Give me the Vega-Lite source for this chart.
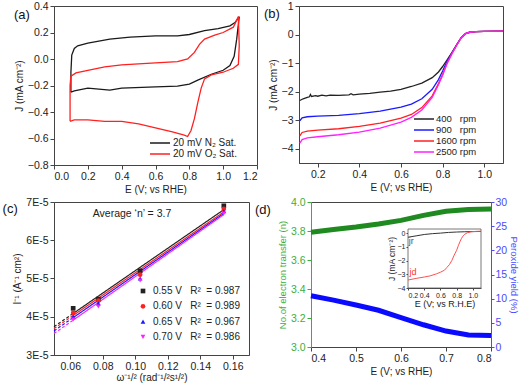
{
"$schema": "https://vega.github.io/schema/vega-lite/v6.json",
"padding": {"left": 2, "top": 0, "right": 0, "bottom": 0},
"spacing": 1,
"resolve": {"scale": {"color": "independent", "shape": "independent", "strokeDash": "independent", "stroke": "independent"}, "legend": {"color": "independent", "shape": "independent"}},
"config": {
 "font": "Liberation Sans",
 "view": {"stroke": "#444", "strokeWidth": 1},
 "axis": {"grid": false, "labelOverlap": false, "tickCount": 20, "domainColor": "#444", "tickColor": "#444", "labelColor": "#222", "titleColor": "#222", "labelFontSize": 10.5, "titleFontSize": 10, "titleFontWeight": "normal", "tickSize": 4, "labelPadding": 2, "titlePadding": 3},
 "legend": {"labelFontSize": 10, "padding": 0, "rowPadding": 0, "symbolStrokeWidth": 1.5, "labelLimit": 300, "labelColor": "#222"}
},
"datasets": {
 "cv": [
  {"gas":"20 mV N₂ Sat.","i":1,"E":0.1,"J":-0.25},{"gas":"20 mV N₂ Sat.","i":2,"E":0.1,"J":-0.1},{"gas":"20 mV N₂ Sat.","i":3,"E":0.105,"J":0.03},{"gas":"20 mV N₂ Sat.","i":4,"E":0.12,"J":0.08},{"gas":"20 mV N₂ Sat.","i":5,"E":0.14,"J":0.1},{"gas":"20 mV N₂ Sat.","i":6,"E":0.2,"J":0.12},{"gas":"20 mV N₂ Sat.","i":7,"E":0.33,"J":0.15},{"gas":"20 mV N₂ Sat.","i":8,"E":0.45,"J":0.165},{"gas":"20 mV N₂ Sat.","i":9,"E":0.6,"J":0.175},{"gas":"20 mV N₂ Sat.","i":10,"E":0.73,"J":0.175},{"gas":"20 mV N₂ Sat.","i":11,"E":0.8,"J":0.185},{"gas":"20 mV N₂ Sat.","i":12,"E":0.89,"J":0.215},{"gas":"20 mV N₂ Sat.","i":13,"E":0.97,"J":0.23},{"gas":"20 mV N₂ Sat.","i":14,"E":1.04,"J":0.25},{"gas":"20 mV N₂ Sat.","i":15,"E":1.07,"J":0.275},{"gas":"20 mV N₂ Sat.","i":16,"E":1.095,"J":0.32},{"gas":"20 mV N₂ Sat.","i":17,"E":1.08,"J":0.15},{"gas":"20 mV N₂ Sat.","i":18,"E":1.065,"J":0.02},{"gas":"20 mV N₂ Sat.","i":19,"E":1.04,"J":-0.05},{"gas":"20 mV N₂ Sat.","i":20,"E":1.0,"J":-0.085},{"gas":"20 mV N₂ Sat.","i":21,"E":0.93,"J":-0.115},{"gas":"20 mV N₂ Sat.","i":22,"E":0.85,"J":-0.16},{"gas":"20 mV N₂ Sat.","i":23,"E":0.8,"J":-0.19},{"gas":"20 mV N₂ Sat.","i":24,"E":0.73,"J":-0.205},{"gas":"20 mV N₂ Sat.","i":25,"E":0.6,"J":-0.21},{"gas":"20 mV N₂ Sat.","i":26,"E":0.4,"J":-0.22},{"gas":"20 mV N₂ Sat.","i":27,"E":0.33,"J":-0.235},{"gas":"20 mV N₂ Sat.","i":28,"E":0.2,"J":-0.22},{"gas":"20 mV N₂ Sat.","i":29,"E":0.12,"J":-0.24},{"gas":"20 mV N₂ Sat.","i":30,"E":0.1,"J":-0.25},
  {"gas":"20 mV O₂ Sat.","i":1,"E":0.095,"J":-0.47},{"gas":"20 mV O₂ Sat.","i":2,"E":0.095,"J":-0.2},{"gas":"20 mV O₂ Sat.","i":3,"E":0.1,"J":-0.13},{"gas":"20 mV O₂ Sat.","i":4,"E":0.13,"J":-0.105},{"gas":"20 mV O₂ Sat.","i":5,"E":0.2,"J":-0.085},{"gas":"20 mV O₂ Sat.","i":6,"E":0.3,"J":-0.06},{"gas":"20 mV O₂ Sat.","i":7,"E":0.4,"J":-0.045},{"gas":"20 mV O₂ Sat.","i":8,"E":0.6,"J":-0.03},{"gas":"20 mV O₂ Sat.","i":9,"E":0.73,"J":-0.02},{"gas":"20 mV O₂ Sat.","i":10,"E":0.79,"J":0.0},{"gas":"20 mV O₂ Sat.","i":11,"E":0.83,"J":0.05},{"gas":"20 mV O₂ Sat.","i":12,"E":0.86,"J":0.11},{"gas":"20 mV O₂ Sat.","i":13,"E":0.89,"J":0.15},{"gas":"20 mV O₂ Sat.","i":14,"E":0.95,"J":0.18},{"gas":"20 mV O₂ Sat.","i":15,"E":1.0,"J":0.2},{"gas":"20 mV O₂ Sat.","i":16,"E":1.06,"J":0.24},{"gas":"20 mV O₂ Sat.","i":17,"E":1.09,"J":0.32},{"gas":"20 mV O₂ Sat.","i":18,"E":1.095,"J":0.1},{"gas":"20 mV O₂ Sat.","i":19,"E":1.09,"J":-0.04},{"gas":"20 mV O₂ Sat.","i":20,"E":1.06,"J":-0.07},{"gas":"20 mV O₂ Sat.","i":21,"E":1.0,"J":-0.1},{"gas":"20 mV O₂ Sat.","i":22,"E":0.93,"J":-0.12},{"gas":"20 mV O₂ Sat.","i":23,"E":0.89,"J":-0.15},{"gas":"20 mV O₂ Sat.","i":24,"E":0.87,"J":-0.22},{"gas":"20 mV O₂ Sat.","i":25,"E":0.85,"J":-0.33},{"gas":"20 mV O₂ Sat.","i":26,"E":0.83,"J":-0.45},{"gas":"20 mV O₂ Sat.","i":27,"E":0.81,"J":-0.54},{"gas":"20 mV O₂ Sat.","i":28,"E":0.79,"J":-0.585},{"gas":"20 mV O₂ Sat.","i":29,"E":0.77,"J":-0.575},{"gas":"20 mV O₂ Sat.","i":30,"E":0.7,"J":-0.55},{"gas":"20 mV O₂ Sat.","i":31,"E":0.6,"J":-0.52},{"gas":"20 mV O₂ Sat.","i":32,"E":0.5,"J":-0.49},{"gas":"20 mV O₂ Sat.","i":33,"E":0.4,"J":-0.47},{"gas":"20 mV O₂ Sat.","i":34,"E":0.3,"J":-0.47},{"gas":"20 mV O₂ Sat.","i":35,"E":0.2,"J":-0.46},{"gas":"20 mV O₂ Sat.","i":36,"E":0.12,"J":-0.46},{"gas":"20 mV O₂ Sat.","i":37,"E":0.095,"J":-0.47}
 ],
 "lsv": [
  {"r":"400\u00a0\u00a0\u00a0rpm","E":0.114,"J":-2.31},{"r":"400\u00a0\u00a0\u00a0rpm","E":0.13,"J":-2.25},{"r":"400\u00a0\u00a0\u00a0rpm","E":0.15,"J":-2.2},{"r":"400\u00a0\u00a0\u00a0rpm","E":0.16,"J":-2.18},{"r":"400\u00a0\u00a0\u00a0rpm","E":0.165,"J":-2.1},{"r":"400\u00a0\u00a0\u00a0rpm","E":0.17,"J":-2.17},{"r":"400\u00a0\u00a0\u00a0rpm","E":0.19,"J":-2.14},{"r":"400\u00a0\u00a0\u00a0rpm","E":0.2,"J":-2.16},{"r":"400\u00a0\u00a0\u00a0rpm","E":0.22,"J":-2.12},{"r":"400\u00a0\u00a0\u00a0rpm","E":0.24,"J":-2.15},{"r":"400\u00a0\u00a0\u00a0rpm","E":0.26,"J":-2.12},{"r":"400\u00a0\u00a0\u00a0rpm","E":0.3,"J":-2.13},{"r":"400\u00a0\u00a0\u00a0rpm","E":0.35,"J":-2.11},{"r":"400\u00a0\u00a0\u00a0rpm","E":0.36,"J":-2.07},{"r":"400\u00a0\u00a0\u00a0rpm","E":0.37,"J":-2.11},{"r":"400\u00a0\u00a0\u00a0rpm","E":0.4,"J":-2.09},{"r":"400\u00a0\u00a0\u00a0rpm","E":0.45,"J":-2.06},{"r":"400\u00a0\u00a0\u00a0rpm","E":0.5,"J":-2.02},{"r":"400\u00a0\u00a0\u00a0rpm","E":0.55,"J":-1.98},{"r":"400\u00a0\u00a0\u00a0rpm","E":0.6,"J":-1.92},{"r":"400\u00a0\u00a0\u00a0rpm","E":0.65,"J":-1.82},{"r":"400\u00a0\u00a0\u00a0rpm","E":0.7,"J":-1.7},{"r":"400\u00a0\u00a0\u00a0rpm","E":0.75,"J":-1.51},{"r":"400\u00a0\u00a0\u00a0rpm","E":0.78,"J":-1.31},{"r":"400\u00a0\u00a0\u00a0rpm","E":0.8,"J":-1.12},{"r":"400\u00a0\u00a0\u00a0rpm","E":0.82,"J":-0.9},{"r":"400\u00a0\u00a0\u00a0rpm","E":0.845,"J":-0.62},{"r":"400\u00a0\u00a0\u00a0rpm","E":0.87,"J":-0.33},{"r":"400\u00a0\u00a0\u00a0rpm","E":0.89,"J":-0.1},{"r":"400\u00a0\u00a0\u00a0rpm","E":0.91,"J":0.03},{"r":"400\u00a0\u00a0\u00a0rpm","E":0.93,"J":0.08},{"r":"400\u00a0\u00a0\u00a0rpm","E":0.96,"J":0.1},{"r":"400\u00a0\u00a0\u00a0rpm","E":1.0,"J":0.11},{"r":"400\u00a0\u00a0\u00a0rpm","E":1.09,"J":0.12},
  {"r":"900\u00a0\u00a0\u00a0rpm","E":0.114,"J":-3.02},{"r":"900\u00a0\u00a0\u00a0rpm","E":0.125,"J":-2.92},{"r":"900\u00a0\u00a0\u00a0rpm","E":0.15,"J":-2.88},{"r":"900\u00a0\u00a0\u00a0rpm","E":0.2,"J":-2.86},{"r":"900\u00a0\u00a0\u00a0rpm","E":0.3,"J":-2.83},{"r":"900\u00a0\u00a0\u00a0rpm","E":0.4,"J":-2.77},{"r":"900\u00a0\u00a0\u00a0rpm","E":0.5,"J":-2.68},{"r":"900\u00a0\u00a0\u00a0rpm","E":0.6,"J":-2.54},{"r":"900\u00a0\u00a0\u00a0rpm","E":0.65,"J":-2.44},{"r":"900\u00a0\u00a0\u00a0rpm","E":0.7,"J":-2.25},{"r":"900\u00a0\u00a0\u00a0rpm","E":0.75,"J":-1.92},{"r":"900\u00a0\u00a0\u00a0rpm","E":0.78,"J":-1.58},{"r":"900\u00a0\u00a0\u00a0rpm","E":0.8,"J":-1.28},{"r":"900\u00a0\u00a0\u00a0rpm","E":0.82,"J":-0.95},{"r":"900\u00a0\u00a0\u00a0rpm","E":0.845,"J":-0.64},{"r":"900\u00a0\u00a0\u00a0rpm","E":0.87,"J":-0.33},{"r":"900\u00a0\u00a0\u00a0rpm","E":0.89,"J":-0.1},{"r":"900\u00a0\u00a0\u00a0rpm","E":0.91,"J":0.03},{"r":"900\u00a0\u00a0\u00a0rpm","E":0.93,"J":0.08},{"r":"900\u00a0\u00a0\u00a0rpm","E":0.96,"J":0.1},{"r":"900\u00a0\u00a0\u00a0rpm","E":1.0,"J":0.11},{"r":"900\u00a0\u00a0\u00a0rpm","E":1.09,"J":0.12},
  {"r":"1600 rpm","E":0.114,"J":-3.55},{"r":"1600 rpm","E":0.125,"J":-3.43},{"r":"1600 rpm","E":0.15,"J":-3.38},{"r":"1600 rpm","E":0.2,"J":-3.35},{"r":"1600 rpm","E":0.3,"J":-3.3},{"r":"1600 rpm","E":0.4,"J":-3.22},{"r":"1600 rpm","E":0.5,"J":-3.1},{"r":"1600 rpm","E":0.6,"J":-2.93},{"r":"1600 rpm","E":0.65,"J":-2.8},{"r":"1600 rpm","E":0.7,"J":-2.56},{"r":"1600 rpm","E":0.75,"J":-2.15},{"r":"1600 rpm","E":0.78,"J":-1.72},{"r":"1600 rpm","E":0.8,"J":-1.4},{"r":"1600 rpm","E":0.82,"J":-1.02},{"r":"1600 rpm","E":0.845,"J":-0.66},{"r":"1600 rpm","E":0.87,"J":-0.34},{"r":"1600 rpm","E":0.89,"J":-0.1},{"r":"1600 rpm","E":0.91,"J":0.03},{"r":"1600 rpm","E":0.93,"J":0.08},{"r":"1600 rpm","E":0.96,"J":0.1},{"r":"1600 rpm","E":1.0,"J":0.11},{"r":"1600 rpm","E":1.09,"J":0.12},
  {"r":"2500 rpm","E":0.114,"J":-3.8},{"r":"2500 rpm","E":0.125,"J":-3.68},{"r":"2500 rpm","E":0.15,"J":-3.62},{"r":"2500 rpm","E":0.2,"J":-3.58},{"r":"2500 rpm","E":0.3,"J":-3.51},{"r":"2500 rpm","E":0.4,"J":-3.42},{"r":"2500 rpm","E":0.5,"J":-3.28},{"r":"2500 rpm","E":0.6,"J":-3.07},{"r":"2500 rpm","E":0.65,"J":-2.9},{"r":"2500 rpm","E":0.7,"J":-2.64},{"r":"2500 rpm","E":0.75,"J":-2.2},{"r":"2500 rpm","E":0.78,"J":-1.76},{"r":"2500 rpm","E":0.8,"J":-1.43},{"r":"2500 rpm","E":0.82,"J":-1.04},{"r":"2500 rpm","E":0.845,"J":-0.67},{"r":"2500 rpm","E":0.87,"J":-0.34},{"r":"2500 rpm","E":0.89,"J":-0.1},{"r":"2500 rpm","E":0.91,"J":0.03},{"r":"2500 rpm","E":0.93,"J":0.08},{"r":"2500 rpm","E":0.96,"J":0.1},{"r":"2500 rpm","E":1.0,"J":0.11},{"r":"2500 rpm","E":1.09,"J":0.12}
 ],
 "kl_pts": [
  {"s":"0.55 V\u00a0\u00a0\u00a0R²\u00a0\u00a0= 0.987","w":0.0618,"inv":4.22e-5},{"s":"0.55 V\u00a0\u00a0\u00a0R²\u00a0\u00a0= 0.987","w":0.0773,"inv":4.46e-5},{"s":"0.55 V\u00a0\u00a0\u00a0R²\u00a0\u00a0= 0.987","w":0.103,"inv":5.2e-5},{"s":"0.55 V\u00a0\u00a0\u00a0R²\u00a0\u00a0= 0.987","w":0.1545,"inv":6.9e-5},
  {"s":"0.60 V\u00a0\u00a0\u00a0R²\u00a0\u00a0= 0.989","w":0.0618,"inv":4.1e-5},{"s":"0.60 V\u00a0\u00a0\u00a0R²\u00a0\u00a0= 0.989","w":0.0773,"inv":4.42e-5},{"s":"0.60 V\u00a0\u00a0\u00a0R²\u00a0\u00a0= 0.989","w":0.103,"inv":5.1e-5},{"s":"0.60 V\u00a0\u00a0\u00a0R²\u00a0\u00a0= 0.989","w":0.1545,"inv":6.82e-5},
  {"s":"0.65 V\u00a0\u00a0\u00a0R²\u00a0\u00a0= 0.967","w":0.0618,"inv":4.0e-5},{"s":"0.65 V\u00a0\u00a0\u00a0R²\u00a0\u00a0= 0.967","w":0.0773,"inv":4.35e-5},{"s":"0.65 V\u00a0\u00a0\u00a0R²\u00a0\u00a0= 0.967","w":0.103,"inv":5.0e-5},{"s":"0.65 V\u00a0\u00a0\u00a0R²\u00a0\u00a0= 0.967","w":0.1545,"inv":6.76e-5},
  {"s":"0.70 V\u00a0\u00a0\u00a0R²\u00a0\u00a0= 0.986","w":0.0618,"inv":3.93e-5},{"s":"0.70 V\u00a0\u00a0\u00a0R²\u00a0\u00a0= 0.986","w":0.0773,"inv":4.27e-5},{"s":"0.70 V\u00a0\u00a0\u00a0R²\u00a0\u00a0= 0.986","w":0.103,"inv":4.95e-5},{"s":"0.70 V\u00a0\u00a0\u00a0R²\u00a0\u00a0= 0.986","w":0.1545,"inv":6.7e-5}
 ],
 "kl_fit": [
  {"v":"0.55 V","part":"extrapolated","w":0.05,"inv":3.74e-5},{"v":"0.55 V","part":"extrapolated","w":0.0618,"inv":4.086e-5},{"v":"0.55 V","part":"fit","w":0.0618,"inv":4.086e-5},{"v":"0.55 V","part":"fit","w":0.1545,"inv":6.8e-5},
  {"v":"0.60 V","part":"extrapolated","w":0.05,"inv":3.69e-5},{"v":"0.60 V","part":"extrapolated","w":0.0618,"inv":4.034e-5},{"v":"0.60 V","part":"fit","w":0.0618,"inv":4.034e-5},{"v":"0.60 V","part":"fit","w":0.1545,"inv":6.74e-5},
  {"v":"0.65 V","part":"extrapolated","w":0.05,"inv":3.63e-5},{"v":"0.65 V","part":"extrapolated","w":0.0618,"inv":3.977e-5},{"v":"0.65 V","part":"fit","w":0.0618,"inv":3.977e-5},{"v":"0.65 V","part":"fit","w":0.1545,"inv":6.7e-5},
  {"v":"0.70 V","part":"extrapolated","w":0.05,"inv":3.56e-5},{"v":"0.70 V","part":"extrapolated","w":0.0618,"inv":3.911e-5},{"v":"0.70 V","part":"fit","w":0.0618,"inv":3.911e-5},{"v":"0.70 V","part":"fit","w":0.1545,"inv":6.67e-5}
 ],
 "rrde": [
  {"E":0.4,"n":3.792,"peroxide":10.6},{"E":0.45,"n":3.81,"peroxide":9.7},{"E":0.5,"n":3.827,"peroxide":8.7},{"E":0.55,"n":3.848,"peroxide":7.6},{"E":0.6,"n":3.873,"peroxide":6.1},{"E":0.65,"n":3.908,"peroxide":4.6},{"E":0.7,"n":3.936,"peroxide":3.3},{"E":0.75,"n":3.949,"peroxide":2.5},{"E":0.8,"n":3.951,"peroxide":2.4}
 ],
 "inset": [
  {"c":"jr","E":0.2,"J":-0.3},{"c":"jr","E":0.3,"J":-0.2},{"c":"jr","E":0.4,"J":-0.1},{"c":"jr","E":0.5,"J":-0.04},{"c":"jr","E":0.6,"J":0.0},{"c":"jr","E":0.7,"J":0.05},{"c":"jr","E":0.8,"J":0.08},{"c":"jr","E":0.9,"J":0.1},{"c":"jr","E":1.0,"J":0.11},{"c":"jr","E":1.1,"J":0.12},
  {"c":"jd","E":0.2,"J":-3.42},{"c":"jd","E":0.3,"J":-3.3},{"c":"jd","E":0.4,"J":-3.2},{"c":"jd","E":0.47,"J":-3.12},{"c":"jd","E":0.55,"J":-2.97},{"c":"jd","E":0.6,"J":-2.85},{"c":"jd","E":0.65,"J":-2.7},{"c":"jd","E":0.68,"J":-2.5},{"c":"jd","E":0.71,"J":-2.3},{"c":"jd","E":0.74,"J":-2.0},{"c":"jd","E":0.77,"J":-1.6},{"c":"jd","E":0.8,"J":-1.25},{"c":"jd","E":0.82,"J":-0.92},{"c":"jd","E":0.84,"J":-0.63},{"c":"jd","E":0.86,"J":-0.38},{"c":"jd","E":0.88,"J":-0.2},{"c":"jd","E":0.9,"J":-0.08},{"c":"jd","E":0.93,"J":0.02},{"c":"jd","E":0.98,"J":0.1},{"c":"jd","E":1.05,"J":0.13},{"c":"jd","E":1.1,"J":0.14}
 ]
},
"vconcat": [
 {"spacing": 5, "resolve": {"scale": {"color": "independent"}, "legend": {"color": "independent"}}, "hconcat": [
  {"width": 203, "height": 159, "layer": [
   {"data": {"name": "cv"}, "mark": {"type": "line", "strokeWidth": 1.3},
    "encoding": {
     "x": {"field": "E", "type": "quantitative", "scale": {"domain": [0, 1.2], "nice": false}, "axis": {"values": [0, 0.2, 0.4, 0.6, 0.8, 1.0, 1.2], "tickCount": 20, "format": ".1f", "title": "E (V; vs RHE)", "labelOverlap": false}},
     "y": {"field": "J", "type": "quantitative", "scale": {"domain": [-0.8, 0.4], "nice": false}, "axis": {"values": [-0.8, -0.6, -0.4, -0.2, 0, 0.2, 0.4], "tickCount": 20, "format": ".1f", "title": "J (mA cm⁻²)", "labelOverlap": false}},
     "color": {"field": "gas", "type": "nominal", "scale": {"domain": ["20 mV N₂ Sat.", "20 mV O₂ Sat."], "range": ["#1a1a1a", "#ff2020"]}, "legend": {"title": null, "orient": "none", "legendX": 100, "legendY": 131, "symbolType": "M-2,0H2", "symbolSize": 100, "labelOffset": 7, "rowPadding": 0}},
     "order": {"field": "i", "type": "quantitative"}
    }},
   {"data": {"values": [{}]}, "mark": {"type": "text", "text": "(a)", "fontSize": 13, "color": "#111"},
    "encoding": {"x": {"datum": -0.19}, "y": {"datum": 0.332}}}
  ]},
  {"width": 204, "height": 157, "layer": [
   {"data": {"name": "lsv"}, "mark": {"type": "line", "strokeWidth": 1.3},
    "encoding": {
     "x": {"field": "E", "type": "quantitative", "scale": {"domain": [0.11, 1.09], "nice": false, "zero": false}, "axis": {"values": [0.2, 0.4, 0.6, 0.8, 1.0], "tickCount": 20, "format": ".1f", "title": "E (V; vs RHE)", "labelOverlap": false}},
     "y": {"field": "J", "type": "quantitative", "scale": {"domain": [-4.5, 1], "nice": false}, "axis": {"values": [-4, -3, -2, -1, 0, 1], "tickCount": 20, "format": "d", "title": "J (mA cm⁻²)", "labelOverlap": false}},
     "color": {"field": "r", "type": "nominal", "scale": {"domain": ["400\u00a0\u00a0\u00a0rpm", "900\u00a0\u00a0\u00a0rpm", "1600 rpm", "2500 rpm"], "range": ["#222222", "#1a1aff", "#ff2020", "#ff20ff"]}, "legend": {"title": null, "orient": "none", "legendX": 119, "legendY": 107, "symbolType": "M-2,0H2", "symbolSize": 100, "labelOffset": 6, "rowPadding": 0, "labelFontSize": 9.5}}
    }},
   {"data": {"values": [{}]}, "mark": {"type": "text", "text": "(b)", "fontSize": 13, "color": "#111"},
    "encoding": {"x": {"datum": -0.02}, "y": {"datum": 0.72}}}
  ]}
 ]},
 {"spacing": 4, "resolve": {"scale": {"color": "independent", "shape": "independent", "strokeDash": "independent", "stroke": "independent"}, "legend": {"color": "independent", "shape": "independent"}}, "hconcat": [
  {"width": 195, "height": 153, "layer": [
   {"data": {"name": "kl_fit"}, "mark": {"type": "line", "strokeWidth": 1.2},
    "encoding": {
     "x": {"field": "w", "type": "quantitative", "scale": {"domain": [0.05, 0.17], "nice": false, "zero": false}, "axis": {"values": [0.06, 0.08, 0.1, 0.12, 0.14, 0.16], "tickCount": 20, "format": ".2f", "title": "ω⁻¹/² (rad⁻¹/²s¹/²)", "labelOverlap": false, "titlePadding": 1}},
     "y": {"field": "inv", "type": "quantitative", "scale": {"domain": [3e-5, 7e-5], "nice": false, "zero": false}, "axis": {"values": [3e-5, 4e-5, 5e-5, 6e-5, 7e-5], "tickCount": 20, "labelExpr": "format(datum.value*1e5, '.0f') + 'E-5'", "title": "I⁻¹ (A⁻¹ cm²)", "labelOverlap": false}},
     "stroke": {"field": "v", "type": "nominal", "scale": {"range": ["#222222", "#ff2020", "#1a1aff", "#ff20ff"]}, "legend": null},
     "detail": {"field": "part"},
     "strokeDash": {"field": "part", "type": "nominal", "scale": {"domain": ["fit", "extrapolated"], "range": [[1, 0], [3, 2]]}, "legend": null}
    }},
   {"data": {"name": "kl_pts"}, "mark": {"type": "point", "filled": true, "size": 22, "opacity": 1},
    "encoding": {
     "x": {"field": "w", "type": "quantitative"},
     "y": {"field": "inv", "type": "quantitative"},
     "color": {"field": "s", "type": "nominal", "scale": {"domain": ["0.55 V\u00a0\u00a0\u00a0R²\u00a0\u00a0= 0.987", "0.60 V\u00a0\u00a0\u00a0R²\u00a0\u00a0= 0.989", "0.65 V\u00a0\u00a0\u00a0R²\u00a0\u00a0= 0.967", "0.70 V\u00a0\u00a0\u00a0R²\u00a0\u00a0= 0.986"], "range": ["#222222", "#ff2020", "#1a1aff", "#ff20ff"]}, "legend": {"title": null, "orient": "none", "legendX": 84, "legendY": 84, "rowPadding": 5.3, "labelFontSize": 10, "labelOffset": 5, "symbolSize": 22}},
     "shape": {"field": "s", "type": "nominal", "scale": {"domain": ["0.55 V\u00a0\u00a0\u00a0R²\u00a0\u00a0= 0.987", "0.60 V\u00a0\u00a0\u00a0R²\u00a0\u00a0= 0.989", "0.65 V\u00a0\u00a0\u00a0R²\u00a0\u00a0= 0.967", "0.70 V\u00a0\u00a0\u00a0R²\u00a0\u00a0= 0.986"], "range": ["square", "circle", "triangle-up", "triangle-down"]}, "legend": {"title": null}}
    }},
   {"data": {"values": [{}]}, "mark": {"type": "text", "text": "Average ‘n’ = 3.7", "fontSize": 10.5, "color": "#222"},
    "encoding": {"x": {"datum": 0.098}, "y": {"datum": 6.69e-5}}},
   {"data": {"values": [{}]}, "mark": {"type": "text", "text": "(c)", "fontSize": 13, "color": "#111"},
    "encoding": {"x": {"datum": 0.023}, "y": {"datum": 6.82e-5}}}
  ]},
  {"width": 180, "height": 145,
   "layer": [
    {"layer": [
      {"layer": [
        {"data": {"name": "rrde"}, "mark": {"type": "line", "color": "#1f8a1f", "strokeWidth": 5},
         "encoding": {
          "x": {"field": "E", "type": "quantitative", "scale": {"domain": [0.4, 0.8], "nice": false, "zero": false}, "axis": {"orient": "bottom", "values": [0.4, 0.5, 0.6, 0.7, 0.8], "tickCount": 20, "format": ".1f", "title": "E (V; vs RHE)", "labelOverlap": false}},
          "y": {"field": "n", "type": "quantitative", "scale": {"domain": [3, 4], "nice": false, "zero": false}, "axis": {"orient": "left", "values": [3, 3.2, 3.4, 3.6, 3.8, 4], "tickCount": 20, "format": ".1f", "title": "No.of electron transfer (n)", "titleFontSize": 9.5, "labelOverlap": false, "domainColor": "#3cae3c", "tickColor": "#3cae3c", "labelColor": "#3cae3c", "titleColor": "#3cae3c"}}
         }},
        {"data": {"values": [{}]}, "mark": {"type": "text", "text": "(d)", "fontSize": 13, "color": "#111"},
         "encoding": {"x": {"datum": 0.293}, "y": {"datum": 3.945}}}
      ]},
      {"data": {"name": "rrde"}, "mark": {"type": "line", "color": "#0a0aff", "strokeWidth": 5},
       "encoding": {
        "x": {"field": "E", "type": "quantitative"},
        "y": {"field": "peroxide", "type": "quantitative", "scale": {"domain": [0, 30], "nice": false}, "axis": {"orient": "right", "values": [0, 5, 10, 15, 20, 25, 30], "tickCount": 20, "format": "d", "title": "Peroxide yield (%)", "titleFontSize": 9.5, "labelOverlap": false, "tickSize": 3, "labelPadding": 1, "titlePadding": 2, "domainColor": "#4a4aff", "tickColor": "#4a4aff", "labelColor": "#4a4aff", "titleColor": "#4a4aff"}}
       }}
     ],
     "resolve": {"scale": {"y": "independent"}}},
    {"layer": [
      {"data": {"values": [{}]}, "mark": {"type": "rect", "fill": "white", "stroke": "#555", "strokeWidth": 0.8},
       "encoding": {
        "x": {"datum": 0.2, "type": "quantitative", "scale": {"domain": [0.2, 1.1], "nice": false, "zero": false, "range": [97, 170]}, "axis": {"orient": "bottom", "offset": -59, "values": [0.2, 0.4, 0.6, 0.8, 1.0], "tickCount": 20, "format": ".1f", "title": "E (V; vs R.H.E)", "labelOverlap": false, "labelFontSize": 7, "titleFontSize": 9, "tickSize": 2, "labelPadding": 1, "titlePadding": 1}},
        "x2": {"datum": 1.1},
        "y": {"datum": -4, "type": "quantitative", "scale": {"domain": [-4, 0.3], "nice": false, "zero": false, "range": [86, 27]}, "axis": {"orient": "left", "offset": -97, "values": [0, -1, -2, -3, -4], "tickCount": 20, "format": "d", "title": "J (mA cm⁻²)", "labelOverlap": false, "labelFontSize": 7, "titleFontSize": 8.5, "tickSize": 2, "labelPadding": 1, "titlePadding": 1}},
        "y2": {"datum": 0.3}
       }},
      {"data": {"name": "inset"}, "mark": {"type": "line", "strokeWidth": 1},
       "encoding": {
        "x": {"field": "E", "type": "quantitative"},
        "y": {"field": "J", "type": "quantitative"},
        "stroke": {"field": "c", "type": "nominal", "scale": {"domain": ["jr", "jd"], "range": ["#333333", "#ff5050"]}, "legend": null}
       }},
      {"data": {"values": [{}]}, "mark": {"type": "text", "text": "jr", "fontSize": 9, "color": "#555", "align": "left"},
       "encoding": {"x": {"datum": 0.21}, "y": {"datum": -0.55}}},
      {"data": {"values": [{}]}, "mark": {"type": "text", "text": "jd", "fontSize": 9, "color": "#ff3030", "align": "left"},
       "encoding": {"x": {"datum": 0.22}, "y": {"datum": -2.85}}}
    ]}
   ],
   "resolve": {"scale": {"x": "independent", "y": "independent"}}
  }
 ]}
]
}
